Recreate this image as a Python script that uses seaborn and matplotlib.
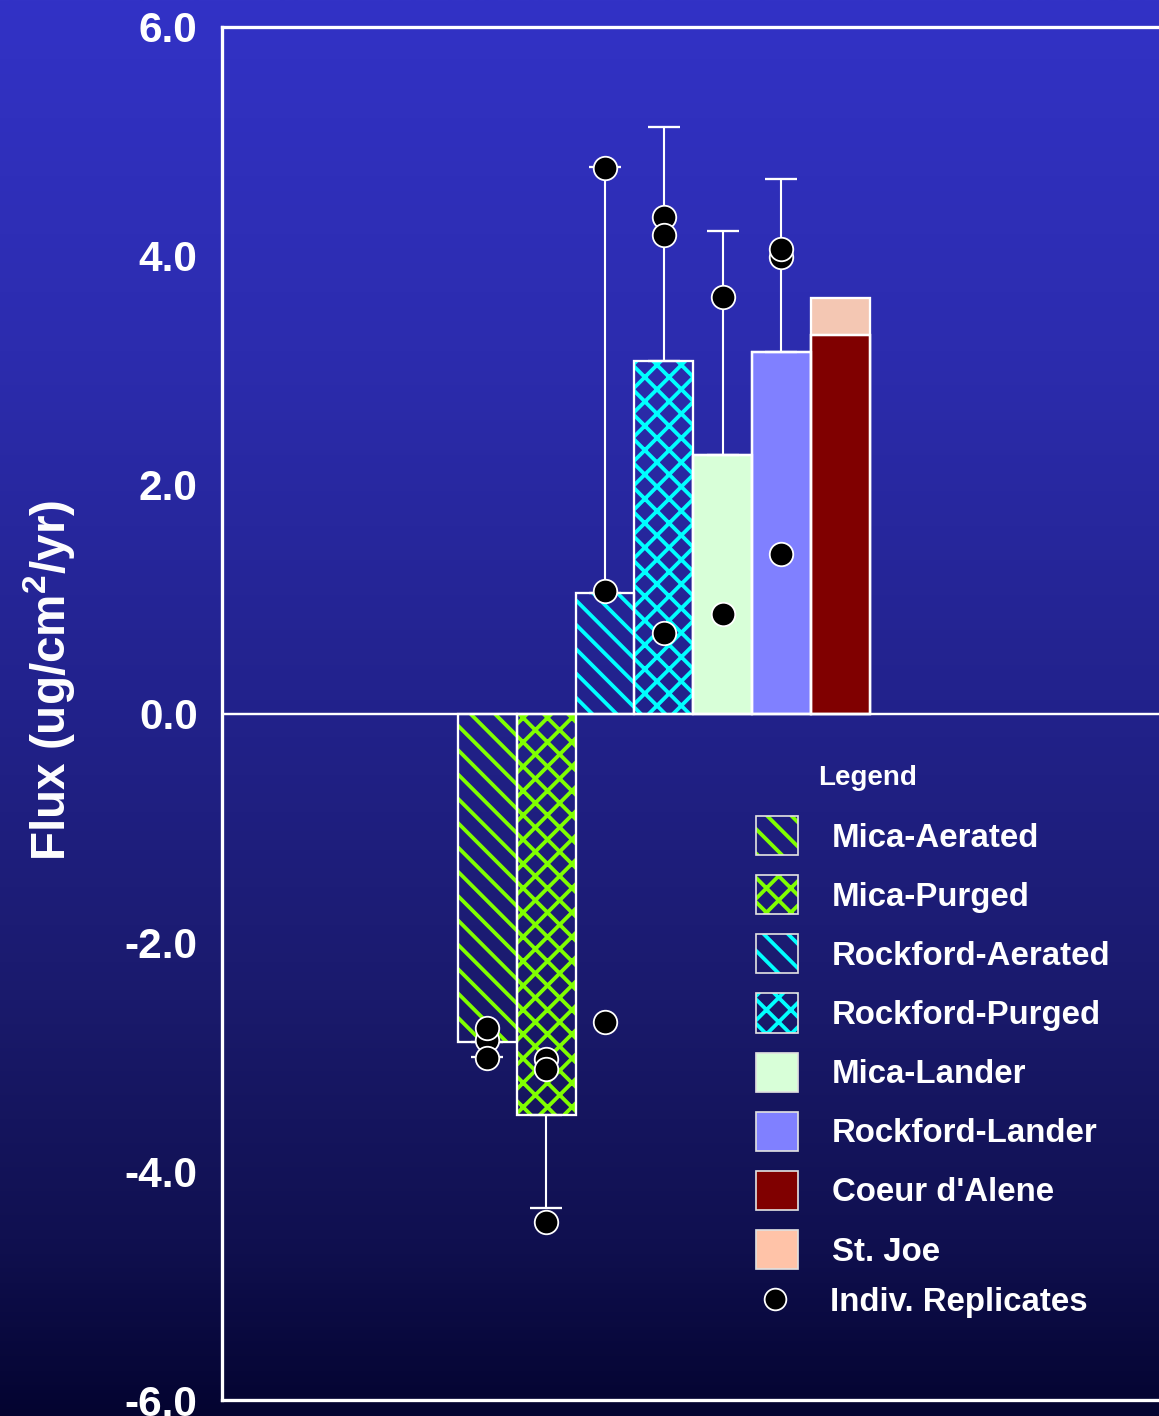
import numpy as np
import pandas as pd
import matplotlib
matplotlib.use("Agg")
import matplotlib.pyplot as plt
import seaborn as sns
from matplotlib.patches import Patch
from matplotlib.lines import Line2D
from matplotlib.ticker import MultipleLocator, FormatStrFormatter

# ---------------- data ----------------
categories = ["Mica-Aerated", "Mica-Purged", "Rockford-Aerated", "Rockford-Purged",
              "Mica-Lander", "Rockford-Lander", "Coeur d'Alene"]
flux = [-2.87, -3.51, 1.05, 3.08, 2.26, 3.16, 3.31]
st_joe_extra = 0.32          # St. Joe, stacked on top of Coeur d'Alene
error_tip = [-3.00, -4.32, 4.78, 5.13, 4.22, 4.67, np.nan]

rep_category = (["Mica-Aerated"] * 3 + ["Mica-Purged"] * 3 + ["Rockford-Aerated"] * 3 +
                ["Rockford-Purged"] * 3 + ["Mica-Lander"] * 2 + ["Rockford-Lander"] * 3)
rep_value = [-2.85, -2.75, -3.01,
             -3.02, -3.11, -4.44,
             4.77, 1.07, -2.70,
             4.34, 4.18, 0.70,
             3.64, 0.87,
             3.99, 4.06, 1.39]

legend_labels = ["Mica-Aerated", "Mica-Purged", "Rockford-Aerated", "Rockford-Purged",
                 "Mica-Lander", "Rockford-Lander", "Coeur d'Alene", "St. Joe"]
replicate_label = "Indiv. Replicates"
y_ticks = [-6, -4, -2, 0, 2, 4, 6]

# ---------------- style ----------------
DPI = 146
W, H = 1159, 1416


def pt(px):
    """convert pixels to points at the output dpi"""
    return px * 72.0 / DPI


LIME = "#80ff00"
CYAN = "#00ffff"
bar_style = {
    "Mica-Aerated": dict(hatch="\\\\", hcolor=LIME),
    "Mica-Purged": dict(hatch="xx", hcolor=LIME),
    "Rockford-Aerated": dict(hatch="\\\\", hcolor=CYAN),
    "Rockford-Purged": dict(hatch="xx", hcolor=CYAN),
    "Mica-Lander": dict(face="#d8ffd8"),
    "Rockford-Lander": dict(face="#8080ff"),
    "Coeur d'Alene": dict(face="#800000"),
}
ST_JOE = "#ffc3a8"

sns.set_style("white")
plt.rcParams["font.family"] = ["Liberation Sans", "DejaVu Sans"]
plt.rcParams["font.weight"] = "bold"
plt.rcParams["mathtext.fontset"] = "custom"
plt.rcParams["mathtext.rm"] = "Liberation Sans:bold"
plt.rcParams["mathtext.bf"] = "Liberation Sans:bold"
plt.rcParams["hatch.linewidth"] = pt(3.8)

fig = plt.figure(figsize=(W / DPI, H / DPI), dpi=DPI)

# gradient background
bg = fig.add_axes([0, 0, 1, 1], zorder=-10)
stops_y = np.array([0, 350, 700, 1000, 1240, 1416]) / H
stops_c = np.array([[50, 50, 198], [44, 44, 174], [34, 34, 140],
                    [26, 26, 108], [16, 16, 80], [4, 4, 48]]) / 255.0
yy = np.linspace(0, 1, 600)
grad = np.stack([np.interp(yy, stops_y, stops_c[:, k]) for k in range(3)], axis=-1)
bg.imshow(grad[:, None, :], aspect="auto", extent=[0, 1, 1, 0])
bg.set_xlim(0, 1); bg.set_ylim(1, 0)
bg.axis("off")

# main axes
left_px, right_px, top_px, bot_px = 222, 1170, 27, 1400
ax = fig.add_axes([left_px / W, 1 - bot_px / H, (right_px - left_px) / W, (bot_px - top_px) / H])
ax.patch.set_alpha(0)

df = pd.DataFrame({"category": categories, "flux": flux})

# St. Joe stacked segment (total height), drawn first
sns.barplot(x=[categories[-1]], y=[flux[-1] + st_joe_extra], order=categories, width=1.0,
            color=ST_JOE, edgecolor="white", linewidth=pt(2.3), errorbar=None, ax=ax)
n_before = len(ax.patches)

sns.barplot(data=df, x="category", y="flux", order=categories, width=1.0, color="white",
            errorbar=None, ax=ax)
main_patches = ax.patches[n_before:]
for cat, p in zip(categories, main_patches):
    st = bar_style[cat]
    if "hatch" in st:
        p.set_facecolor("none")
        p.set_edgecolor(st["hcolor"])
        p.set_hatch(st["hatch"])
        p.set_linewidth(0)
    else:
        p.set_facecolor(st["face"])
        p.set_edgecolor("white")
        p.set_linewidth(pt(2.3))

# white outlines for all bars
sns.barplot(data=df, x="category", y="flux", order=categories, width=1.0, color="white",
            fill=False, linewidth=pt(2.3), errorbar=None, ax=ax)

# zero line
ax.axhline(0, color="white", lw=pt(2.4), zorder=2)

# one-sided error bars
pos = np.arange(len(categories))
fl = np.array(flux); et = np.array(error_tip)
mask = ~np.isnan(et)
lower = np.where(et < fl, fl - et, 0)[mask]
upper = np.where(et > fl, et - fl, 0)[mask]
ax.errorbar(pos[mask], fl[mask], yerr=[lower, upper], fmt="none", ecolor="white",
            elinewidth=pt(2.1), capsize=pt(15.6), capthick=pt(2.3), zorder=2.5)

# individual replicates
sns.stripplot(x=rep_category, y=rep_value, order=categories, jitter=False, color="black",
              edgecolor="white", linewidth=pt(1.8), size=pt(23.5), ax=ax, zorder=4)

# axes formatting
ax.set_xlim(-4.515, (right_px - 487.5) / 58.8)
ax.set_ylim(-6, 6)
ax.set_xticks([])
ax.set_xlabel("")
ax.set_yticks(y_ticks)
ax.yaxis.set_minor_locator(MultipleLocator(1))
ax.yaxis.set_major_formatter(FormatStrFormatter("%.1f"))
ax.tick_params(axis="y", which="major", direction="in", length=pt(36), width=pt(1.8),
               color="white", labelcolor="white", labelsize=pt(42.4), pad=pt(24.3))
ax.tick_params(axis="y", which="minor", direction="in", length=pt(18), width=pt(1.8),
               color="#dddddd")
for lab in ax.get_yticklabels():
    lab.set_fontweight("bold")
for side in ["left", "top", "bottom"]:
    ax.spines[side].set_color("white")
    ax.spines[side].set_linewidth(pt(3.3))
ax.spines["right"].set_visible(False)

ax.set_ylabel(r"Flux (ug/cm$^\mathbf{2}$/yr)", color="white", fontsize=pt(47.7),
              fontweight="bold")
ax.yaxis.set_label_coords(-0.153, 0.524)

# legend
handles = []
for cat in categories:
    st = bar_style[cat]
    if "hatch" in st:
        handles.append((Patch(facecolor="none", edgecolor=st["hcolor"], hatch=st["hatch"], lw=0),
                        Patch(facecolor="none", edgecolor="#e0e0e0", lw=pt(1.7))))
    else:
        handles.append(Patch(facecolor=st["face"], edgecolor="#e0e0e0", lw=pt(1.7)))
handles.append(Patch(facecolor=ST_JOE, edgecolor="#e0e0e0", lw=pt(1.7)))

leg_prop = {"family": "Liberation Sans", "weight": "bold", "size": pt(33)}
fig.legend(handles, legend_labels, loc="upper left",
           bbox_to_anchor=(756 / W, 1 - 816 / H), frameon=False,
           prop=leg_prop, labelcolor="white", handlelength=1.27, handleheight=1.45,
           handletextpad=1.03, labelspacing=0.605, borderpad=0, borderaxespad=0)

rep_handle = Line2D([], [], marker="o", ls="", mfc="black", mec="white", mew=pt(1.8),
                    ms=pt(21.7))
fig.legend([rep_handle], [replicate_label], loc="center left",
           bbox_to_anchor=(754 / W, 1 - 1302 / H), frameon=False,
           prop=leg_prop, labelcolor="white", handlelength=1.27,
           handletextpad=1.03, borderpad=0, borderaxespad=0)

fig.text(818 / W, 1 - 778 / H, "Legend", ha="left", va="center", color="white",
         fontsize=pt(27.8), fontweight="bold", family="Liberation Sans")

fig.savefig("out.png", dpi=DPI)
